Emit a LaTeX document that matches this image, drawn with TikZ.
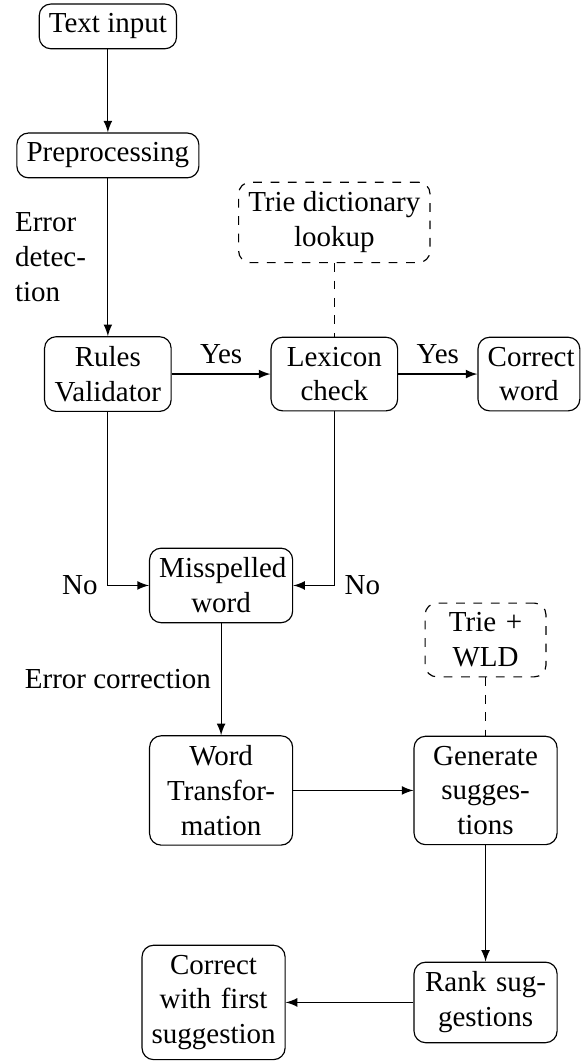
\documentclass[tikz,border=0pt]{standalone}
\usepackage{fontspec}
\setmainfont{Liberation Serif}
\usetikzlibrary{arrows,positioning,calc}

\begin{document}
\begin{tikzpicture}[
    on grid,
    block/.style={rectangle, draw, rounded corners, align=center},
    narrow/.style={block, text width=1cm},
    medium/.style={block, text width=1.3cm},
    wide/.style={block, text width=1.5cm},
    store/.style={rectangle, draw, dashed, rounded corners, align=center},
    arrow/.style={->, >=latex},
    link/.style={dashed}
]
\useasboundingbox (0,0) rectangle (200.3pt,-365.9pt);

% Error detection
\node[block] (input) at (37.2pt,-9.1pt) {Text input};
\node[block, below=44.5pt of input] (prep) {Preprocessing};
\node[medium, below=75.4pt of prep] (rules) {Rules\\Validator};
\node[medium, right=78.1pt of rules] (lexicon) {Lexicon\\check};
\node[narrow, right=67.1pt of lexicon] (correct) {Correct\\word};
\node[store, above=52.3pt of lexicon] (trie) {Trie dictionary\\lookup};

% Error correction
\node[wide] (missp) at ($(rules)!0.5!(lexicon)+(0,-72.9pt)$) {Misspelled\\word};
\node[wide, below=70.7pt of missp] (transf) {Word\\Transfor-\\mation};
\node[wide, right=91.2pt of transf] (gener) {Generate\\sugges-\\tions};
\node[store, text width=35pt, above=51.9pt of gener] (wld) {Trie +\\WLD};
\node[wide, below=73.1pt of gener] (rank) {Rank sug-\\gestions};
\node[wide, left=93.8pt of rank] (final) {Correct\\with first\\suggestion};

% Arrows
\draw[arrow] (input) -- (prep);
\draw[arrow] (prep) -- node[left, text width=1cm, align=left] {Error\\detec-\\tion} (rules);
\draw[arrow] (rules) -- node[above] {Yes} (lexicon);
\draw[arrow] (lexicon) -- node[above] {Yes} (correct);
\draw[link] (trie) -- (lexicon);
\draw[arrow] (rules) |- node[left] {No} (missp);
\draw[arrow] (lexicon) |- node[right] {No} (missp);
\draw[arrow] (missp) -- node[left] {Error correction} (transf);
\draw[arrow] (transf) -- (gener);
\draw[link] (wld) -- (gener);
\draw[arrow] (gener) -- (rank);
\draw[arrow] (rank) -- (final);

\end{tikzpicture}
\end{document}
